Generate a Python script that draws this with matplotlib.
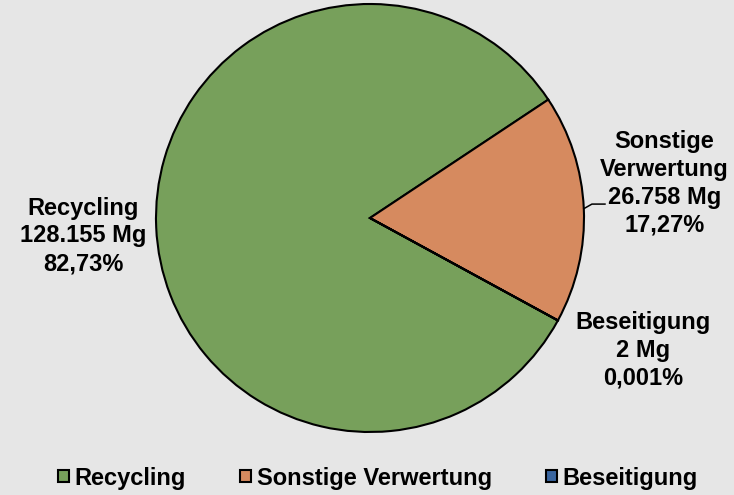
import numpy as np
import matplotlib
matplotlib.use('Agg')
import matplotlib.pyplot as plt
from matplotlib.patches import Patch

# --- data ---
categories = ["Recycling", "Sonstige Verwertung", "Beseitigung"]
mengen_mg  = [128155, 26758, 2]
mengen_txt = ["128.155 Mg", "26.758 Mg", "2 Mg"]
anteile    = ["82,73%", "17,27%", "0,001%"]
label_names = ["Recycling", "Sonstige\nVerwertung", "Beseitigung"]

# --- style ---
BG     = '#e6e6e6'
GREEN  = '#77a05b'
ORANGE = '#d68a5f'
BLUE   = '#3a66a0'
FONT   = 'Liberation Sans'
FS     = 17

plt.rcParams['font.family'] = [FONT, 'DejaVu Sans']

fig = plt.figure(figsize=(7.34, 4.95), dpi=100)
fig.patch.set_facecolor(BG)

# pie axes: centre ~ (370, 218) px, radius ~ 214 px
W, H = 734, 495
cx, cy, r = 370, 218, 214
ax = fig.add_axes([(cx - r) / W, (H - cy - r) / H, 2 * r / W, 2 * r / H])
ax.set_facecolor(BG)

wedges, _ = ax.pie(mengen_mg, colors=[GREEN, ORANGE, BLUE], startangle=-28.6,
                   counterclock=False, radius=1.0,
                   wedgeprops=dict(edgecolor='black', linewidth=1.5))
ax.set_xlim(-1, 1)
ax.set_ylim(-1, 1)
ax.set_aspect('equal')
ax.axis('off')

# data labels (layout positions in axes data units)
lab_pos = [(-1.341, -0.084), (1.375, 0.161), (1.278, -0.617)]
for name, txt, pct, (x, y) in zip(label_names, mengen_txt, anteile, lab_pos):
    ax.text(x, y, f"{name}\n{txt}\n{pct}", ha='center', va='center',
            fontsize=FS, fontweight='bold', linespacing=1.27, clip_on=False)

# leader line for "Sonstige Verwertung"
w = wedges[1]
mid = np.deg2rad((w.theta1 + w.theta2) / 2)
x0, y0 = np.cos(mid), np.sin(mid)
ax.plot([x0, 1.037, 1.098], [y0, 0.065, 0.065], color='black', lw=1.1,
        clip_on=False)

# legend
handles = [Patch(facecolor=c, edgecolor='black', linewidth=1.5)
           for c in [GREEN, ORANGE, BLUE]]
leg = fig.legend(handles, categories, loc='center', bbox_to_anchor=(0.515, 17 / H),
                 ncol=3, frameon=False, handlelength=0.45, handleheight=0.45,
                 handletextpad=0.25, columnspacing=2.3,
                 prop=dict(family=FONT, weight='bold', size=FS))

fig.savefig('out.png', dpi=100, facecolor=BG)
